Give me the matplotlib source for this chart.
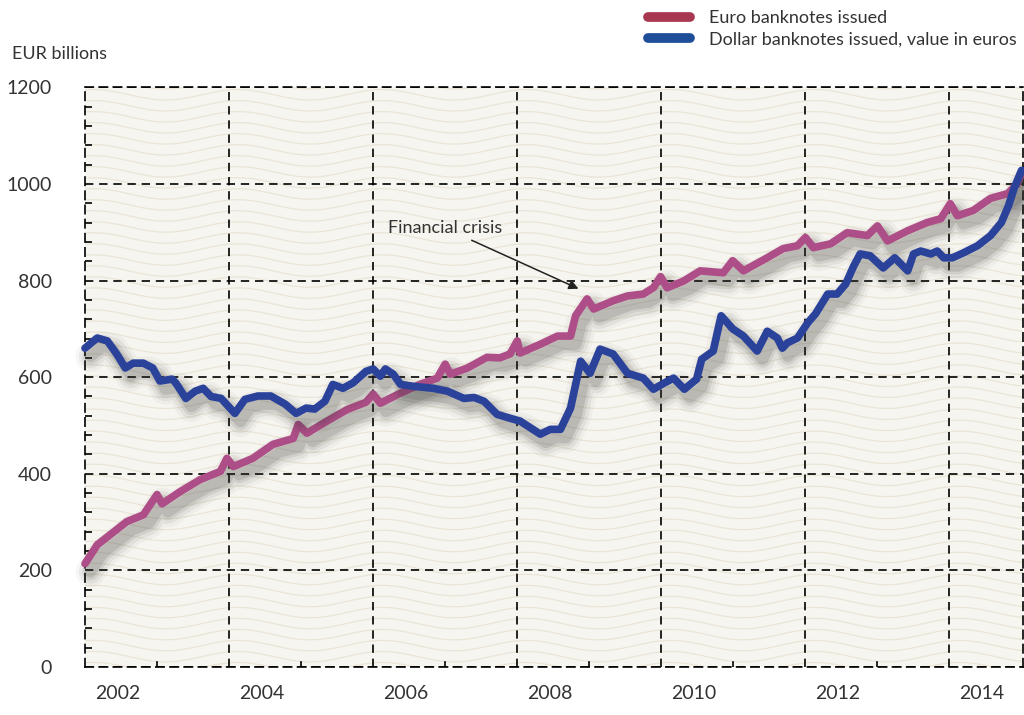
import numpy as np
import matplotlib.pyplot as plt
import matplotlib.patheffects as pe
from matplotlib.lines import Line2D
from matplotlib.ticker import MultipleLocator, FixedLocator

plt.rcParams['font.family'] = ['Lato', 'DejaVu Sans']

# banknotes in circulation, EUR billions (decimal years)
euro_t = [2002.00, 2002.17, 2002.35, 2002.58, 2002.81, 2002.90, 2003.00, 2003.07,
          2003.32, 2003.60, 2003.88, 2003.97, 2004.06, 2004.33, 2004.61, 2004.89,
          2004.96, 2005.08, 2005.36, 2005.64, 2005.90, 2006.00, 2006.10, 2006.38,
          2006.65, 2006.89, 2007.00, 2007.07, 2007.31, 2007.58, 2007.76, 2007.90,
          2008.00, 2008.04, 2008.32, 2008.56, 2008.74, 2008.81, 2008.97, 2009.06,
          2009.33, 2009.53, 2009.75, 2009.89, 2009.99, 2010.08, 2010.31, 2010.54,
          2010.86, 2010.99, 2011.14, 2011.47, 2011.69, 2011.89, 2012.00, 2012.11,
          2012.35, 2012.58, 2012.86, 2013.00, 2013.14, 2013.42, 2013.69, 2013.88,
          2014.01, 2014.11, 2014.33, 2014.57, 2014.81, 2014.94, 2015.00]
euro_v = [214, 253, 274, 301, 315, 335, 357, 338,
          363, 388, 405, 432, 415, 432, 461, 473,
          502, 484, 509, 533, 548, 565, 546, 567,
          585, 598, 627, 606, 619, 641, 640, 648,
          675, 650, 668, 685, 685, 727, 762, 741,
          758, 768, 772, 785, 808, 785, 799, 820,
          816, 841, 820, 847, 866, 872, 889, 868,
          876, 899, 893, 913, 882, 903, 920, 928,
          959, 934, 945, 970, 980, 1000, 1021]

usd_t = [2002.00, 2002.17, 2002.31, 2002.44, 2002.56, 2002.67, 2002.81, 2002.94,
         2003.04, 2003.21, 2003.26, 2003.40, 2003.53, 2003.64, 2003.75, 2003.89,
         2004.08, 2004.22, 2004.40, 2004.58, 2004.78, 2004.93, 2005.07, 2005.19,
         2005.33, 2005.44, 2005.58, 2005.72, 2005.90, 2006.00, 2006.10, 2006.17,
         2006.28, 2006.38, 2006.56, 2006.83, 2007.03, 2007.26, 2007.40, 2007.54,
         2007.72, 2007.90, 2008.04, 2008.32, 2008.46, 2008.60, 2008.74, 2008.88,
         2009.01, 2009.15, 2009.33, 2009.53, 2009.75, 2009.89, 2010.03, 2010.17,
         2010.32, 2010.49, 2010.56, 2010.72, 2010.83, 2010.99, 2011.14, 2011.33,
         2011.47, 2011.61, 2011.68, 2011.75, 2011.89, 2012.03, 2012.14, 2012.31,
         2012.44, 2012.56, 2012.67, 2012.76, 2012.90, 2013.08, 2013.24, 2013.42,
         2013.50, 2013.60, 2013.74, 2013.83, 2013.92, 2014.04, 2014.19, 2014.39,
         2014.57, 2014.72, 2014.82, 2014.90, 2015.00]
usd_v = [660, 681, 675, 648, 619, 629, 629, 619,
         592, 596, 588, 556, 571, 577, 560, 556,
         525, 554, 561, 561, 544, 525, 536, 534,
         550, 585, 577, 588, 612, 617, 602, 617,
         606, 585, 581, 577, 571, 556, 558, 550,
         523, 515, 509, 482, 492, 492, 536, 633,
         608, 658, 648, 608, 598, 575, 587, 598,
         575, 596, 637, 654, 727, 700, 685, 654,
         695, 681, 660, 671, 681, 712, 731, 772,
         772, 793, 830, 855, 851, 826, 847, 820,
         855, 861, 855, 861, 847, 847, 857, 872,
         893, 920, 955, 992, 1028]

series_labels = ['Euro banknotes issued', 'Dollar banknotes issued, value in euros']
euro_col = '#AE4E88'
usd_col = '#2B429A'
year_labels = ['2002', '2004', '2006', '2008', '2010', '2012', '2014']

fig = plt.figure(figsize=(10.24, 7.15), dpi=100)
ax = fig.add_axes([0.083, 0.067, 0.916, 0.811])
ax.set_facecolor('#F7F5EF')

# wavy paper texture behind the plot
wx = np.linspace(0, 1, 400)
for y0 in np.arange(-0.02, 1.04, 0.019):
    ax.plot(wx, y0 + 0.009 * np.sin(2 * np.pi * wx * 6.5 + 1.2), color='#EAE5D6',
            lw=0.9, transform=ax.transAxes, zorder=0)


def soft_shadow():
    fx = []
    for w, a in [(22, 0.04), (17, 0.07), (12, 0.10), (8, 0.14)]:
        fx.append(pe.SimpleLineShadow(offset=(4, -6), shadow_color='#3a3a3a',
                                      alpha=a, linewidth=w))
    fx.append(pe.Normal())
    return fx


ax.plot(euro_t, euro_v, color=euro_col, lw=5.5, solid_joinstyle='round',
        solid_capstyle='round', path_effects=soft_shadow(), zorder=3, clip_on=False)
ax.plot(usd_t, usd_v, color=usd_col, lw=5.5, solid_joinstyle='round',
        solid_capstyle='round', path_effects=soft_shadow(), zorder=4, clip_on=False)

ax.set_xlim(2002, 2015.02)
ax.set_ylim(0, 1200)

ax.yaxis.set_major_locator(MultipleLocator(200))
ax.yaxis.set_minor_locator(MultipleLocator(40))
ax.xaxis.set_major_locator(FixedLocator([2004, 2006, 2008, 2010, 2012, 2014]))
ax.set_xticklabels([])
ax.grid(True, which='major', color='black', lw=1.2, linestyle=(0, (5, 3.5)))
ax.tick_params(axis='x', which='both', length=0)
ax.tick_params(axis='y', which='major', length=0, labelsize=14, pad=24,
               colors='#333333')
ax.tick_params(axis='y', which='minor', direction='in', length=5, width=1.2)

# odd-year ticks on the bottom edge
for yr in [2003, 2005, 2007, 2009, 2011, 2013]:
    ax.plot([yr, yr], [0, 10], color='black', lw=1.2, zorder=5)

for label, yr in zip(year_labels, range(2002, 2015, 2)):
    ax.text(yr + 0.45, -0.045, label, transform=ax.get_xaxis_transform(),
            ha='center', va='center', fontsize=14, color='#333333')

for s in ax.spines.values():
    s.set_linestyle((0, (5, 3.5)))
    s.set_linewidth(1.2)

fig.text(0.012, 0.925, 'EUR billions', fontsize=13, color='#333333',
         ha='left', va='center')

ax.annotate('Financial crisis', xy=(2008.85, 783), xytext=(2006.21, 908),
            fontsize=13, color='#333333', ha='left', va='center',
            arrowprops=dict(arrowstyle='-|>', color='#222222', lw=1.1,
                            mutation_scale=14, shrinkA=2, shrinkB=0),
            zorder=6)

# legend in the top right corner
handles = [Line2D([], [], color='#A8384F', lw=7, solid_capstyle='round'),
           Line2D([], [], color='#1E4E9A', lw=7, solid_capstyle='round')]
fig.legend(handles, series_labels, loc='upper right', bbox_to_anchor=(1.003, 1.0),
           frameon=False, fontsize=13, handlelength=2.3, handletextpad=1.1,
           labelspacing=0.3, borderaxespad=0.15, labelcolor='#333333')

fig.savefig('out.png', dpi=100, facecolor='white')
